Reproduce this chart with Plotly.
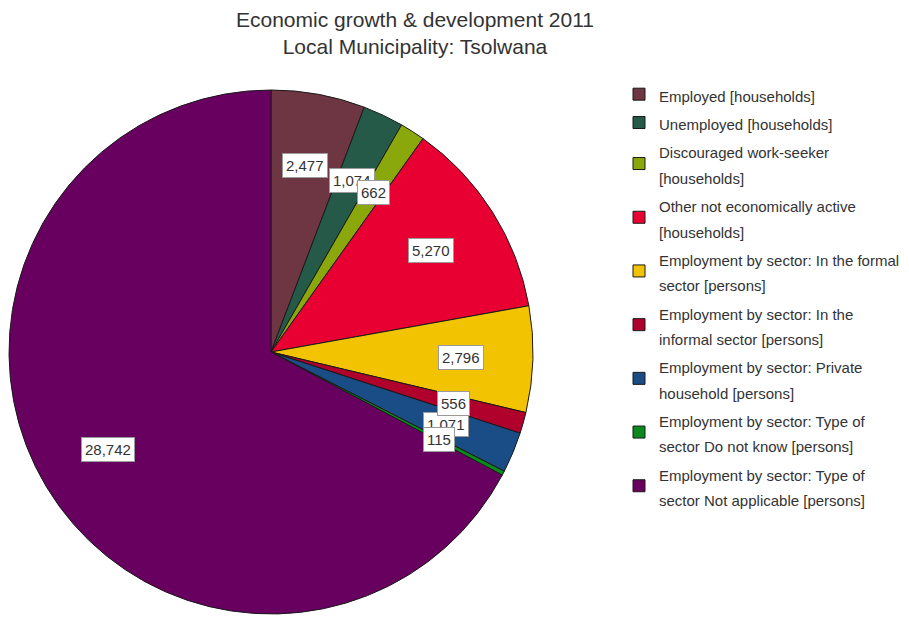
import math
import plotly.graph_objects as go

# Category labels (legend text) and counts
labels = [
    "Employed [households]",
    "Unemployed [households]",
    "Discouraged work-seeker<br>[households]",
    "Other not economically active<br>[households]",
    "Employment by sector: In the formal<br>sector [persons]",
    "Employment by sector: In the<br>informal sector [persons]",
    "Employment by sector: Private<br>household [persons]",
    "Employment by sector: Type of<br>sector Do not know [persons]",
    "Employment by sector: Type of<br>sector Not applicable [persons]",
]
values = [2477, 1074, 662, 5270, 2796, 556, 1071, 115, 28742]
colors = [
    "#6E3642", "#245A47", "#8AA80C", "#E80032", "#F2C300",
    "#B0002C", "#1A4C86", "#0A8A1C", "#680060",
]

FONT = "Liberation Sans, Arial, sans-serif"
W, H = 909, 617
# pie placement in pixels
cx, cy, R = 271, 352, 262

# legend entries: smaller text inside a larger legend font for wider line spacing
legend_labels = [f'<span style="font-size:15px">{t}</span>' for t in labels]

fig = go.Figure(
    go.Pie(
        labels=legend_labels,
        values=values,
        sort=False,
        direction="clockwise",
        rotation=0,
        marker=dict(colors=colors, line=dict(color="#1a1a1a", width=1)),
        textinfo="none",
        hoverinfo="value",
        domain=dict(
            x=[(cx - R) / W, (cx + R) / W],
            y=[1 - (cy + R) / H, 1 - (cy - R) / H],
        ),
    )
)

# value labels in white boxes, placed at each slice's mid-angle
total = sum(values)
cum = 0
boxes = []
for v in values:
    mid = (cum + v / 2) / total * 2 * math.pi
    cum += v
    r = 0.725 * R
    px = cx + r * math.sin(mid)
    py = cy - r * math.cos(mid)
    boxes.append(
        dict(
            x=px / W, y=1 - py / H, xref="paper", yref="paper",
            xanchor="center", yanchor="middle",
            text=f"{v:,}", showarrow=False,
            font=dict(family=FONT, size=15, color="#333333"),
            bgcolor="white", bordercolor="#9a9a9a", borderwidth=1, borderpad=3,
        )
    )
# the informal-sector box sits above the private-household box
boxes[5], boxes[6] = boxes[6], boxes[5]

title = dict(
    x=415 / W, y=1 - 6 / H, xref="paper", yref="paper",
    xanchor="center", yanchor="top", showarrow=False,
    text="Economic growth & development 2011<br>Local Municipality: Tsolwana",
    font=dict(family=FONT, size=21, color="#333333"),
)

fig.update_layout(
    width=W, height=H,
    margin=dict(l=0, r=0, t=0, b=0),
    paper_bgcolor="white",
    plot_bgcolor="white",
    legend=dict(
        x=619 / W, xanchor="left", y=1 - 75 / H, yanchor="top",
        font=dict(family=FONT, size=19.5, color="#333333"),
        bgcolor="rgba(0,0,0,0)",
        itemwidth=30,
    ),
    annotations=boxes + [title],
)

fig.write_html("out.html")
